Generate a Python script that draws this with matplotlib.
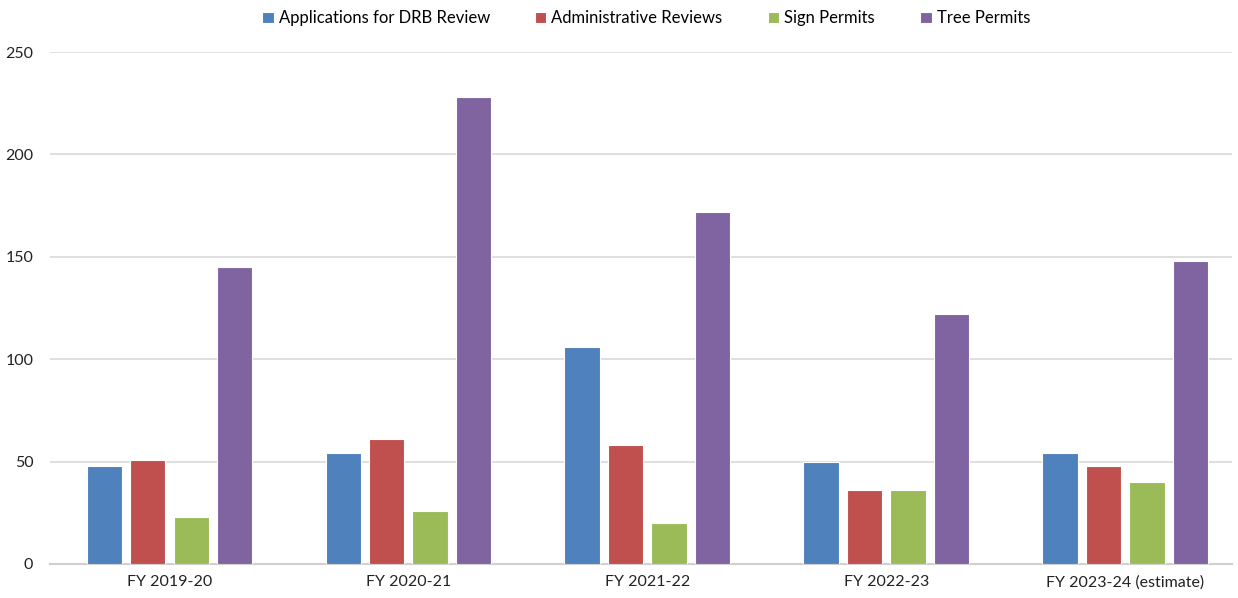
import matplotlib.pyplot as plt
import numpy as np

plt.rcParams['font.family'] = ['Lato', 'DejaVu Sans']

# data
categories = ["FY 2019-20", "FY 2020-21", "FY 2021-22", "FY 2022-23", "FY 2023-24 (estimate)"]
drb_review = [48, 54, 106, 50, 54]
admin_reviews = [51, 61, 58, 36, 48]
sign_permits = [23, 26, 20, 36, 40]
tree_permits = [145, 228, 172, 122, 148]

series_names = ["Applications for DRB Review", "Administrative Reviews", "Sign Permits", "Tree Permits"]
series_vals = [drb_review, admin_reviews, sign_permits, tree_permits]
colors = ["#4F81BD", "#C0504D", "#9BBB59", "#8064A2"]

fig = plt.figure(figsize=(12.38, 5.98), dpi=100)
ax = fig.add_axes([0.0404, 0.0569, 0.955, 0.856])

x = np.arange(len(categories))
step = 0.182
width = 0.148
for i, (name, vals, c) in enumerate(zip(series_names, series_vals, colors)):
    ax.bar(x + (i - 1.5) * step, vals, width, color=c, edgecolor='white',
           linewidth=0.8, label=name, zorder=3)

ax.set_xlim(-0.5, 4.448)
ax.set_ylim(0, 250)
ax.set_yticks(range(0, 251, 50))
ax.set_xticks(x)
ax.set_xticklabels(categories)
ax.grid(axis='y', color='#d9d9d9', linewidth=1.2, zorder=0)
ax.tick_params(axis='both', length=0, labelsize=11.5, colors='#222222')
ax.tick_params(axis='x', pad=8)
ax.tick_params(axis='y', pad=12)
for s in ['top', 'right', 'left']:
    ax.spines[s].set_visible(False)
ax.spines['bottom'].set_color('#d0d0d0')
ax.spines['bottom'].set_linewidth(1.5)

ax.legend(loc='center', bbox_to_anchor=(0.504, 1.066), ncol=4, frameon=False,
          fontsize=12, handlelength=0.7, handleheight=0.7, handletextpad=0.3,
          columnspacing=2.7)

fig.savefig('out.png', dpi=100)
